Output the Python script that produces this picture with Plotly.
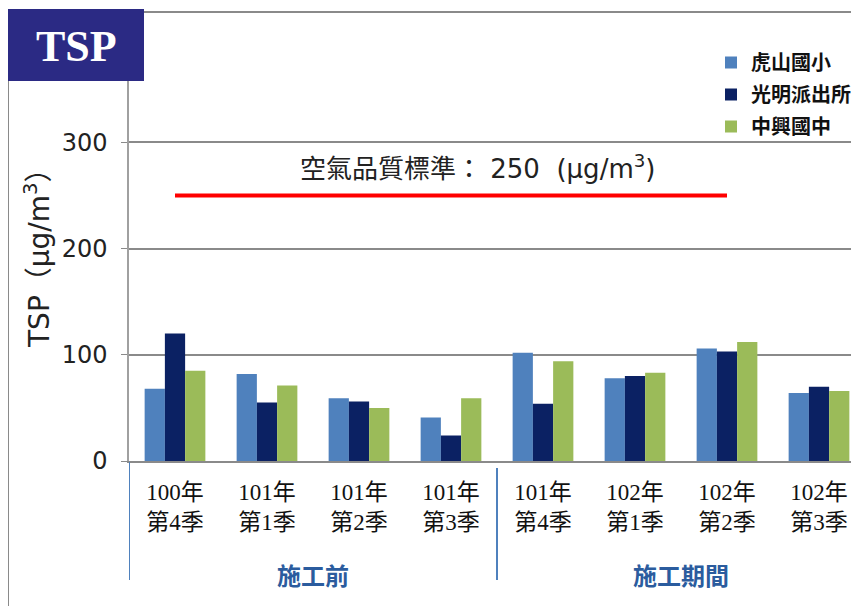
import plotly.graph_objects as go

# ---- data ----
categories = ["100年<br>第4季", "101年<br>第1季", "101年<br>第2季", "101年<br>第3季",
              "101年<br>第4季", "102年<br>第1季", "102年<br>第2季", "102年<br>第3季"]
series_names = ["虎山國小", "光明派出所", "中興國中"]
hushan = [68, 82, 59, 41, 102, 78, 106, 64]
guangming = [120, 55, 56, 24, 54, 80, 103, 70]
zhongxing = [85, 71, 50, 59, 94, 83, 112, 66]
standard_value = 250
y_ticks = [0, 100, 200, 300, 400]
y_tick_text = ["0", "100", "200", "300", ""]
phase_labels = ["施工前", "施工期間"]

colors = ["#4F81BD", "#0B2163", "#9BBB59"]

# page has an 8px body margin, so the figure is drawn 8px in from the corner
W, H = 851, 598
L, R, T, B = 121, 0, 28, 145
pw = W - L - R
ph = H - T - B


def px_x(px):  # screen x -> paper
    return (px - 8 - L) / pw


def px_y(py):  # screen y -> paper
    return (H - B - (py - 8)) / ph


CJK = "Noto Sans CJK TC"
LAT = "DejaVu Sans"
standard_label = (
    f"<span style='font-family:{CJK};font-size:26px'>空氣品質標準：</span>"
    f"<span style='font-family:{LAT};font-size:26px'> {standard_value}  (μg/m<sup>3</sup>)</span>"
)

fig = go.Figure()
for name, vals, c in zip(series_names, [hushan, guangming, zhongxing], colors):
    fig.add_trace(go.Bar(x=categories, y=vals, name=name, marker_color=c,
                         marker_line_width=0, legendgroup=name))

fig.add_trace(go.Scatter(x=[categories[0], categories[6]],
                         y=[standard_value, standard_value],
                         mode="lines", line=dict(color="#FF0000", width=4),
                         showlegend=False, hoverinfo="skip"))

shapes = [
    dict(type="rect", xref="paper", yref="paper", x0=px_x(8), x1=px_x(880),
         y0=px_y(640), y1=px_y(12), line=dict(color="#8a8a8a", width=2), layer="below"),
    dict(type="rect", xref="paper", yref="paper", x0=px_x(6), x1=px_x(144),
         y0=px_y(81), y1=px_y(9), fillcolor="#2B2A84", line=dict(width=0)),
    dict(type="line", xref="x", yref="paper", x0=-0.5, x1=-0.5,
         y0=px_y(462), y1=px_y(580), line=dict(color="#4F81BD", width=2)),
    dict(type="line", xref="x", yref="paper", x0=3.5, x1=3.5,
         y0=px_y(468), y1=px_y(580), line=dict(color="#4F81BD", width=2)),
]

annotations = [
    dict(text="TSP", xref="paper", yref="paper", x=px_x(76), y=px_y(46),
         xanchor="center", yanchor="middle", showarrow=False,
         font=dict(family="Liberation Serif", size=44, color="white", weight="bold")),
    dict(text=standard_label, xref="paper", yref="paper", x=px_x(477), y=px_y(166),
         xanchor="center", yanchor="middle", showarrow=False,
         font=dict(family=CJK, size=26, color="#222")),
    dict(text="TSP（μg/m<sup>3</sup>）", xref="paper", yref="paper", x=px_x(37), y=px_y(251),
         xanchor="center", yanchor="middle", textangle=-90, showarrow=False,
         font=dict(family=LAT + ", " + CJK, size=28, color="#222")),
    dict(text=phase_labels[0], xref="x", yref="paper", x=1.5, y=px_y(574),
         xanchor="center", yanchor="middle", showarrow=False,
         font=dict(family=CJK, size=24, color="#2B5C9E", weight="bold")),
    dict(text=phase_labels[1], xref="x", yref="paper", x=5.5, y=px_y(574),
         xanchor="center", yanchor="middle", showarrow=False,
         font=dict(family=CJK, size=24, color="#2B5C9E", weight="bold")),
]

fig.update_layout(
    width=W, height=H,
    margin=dict(l=L, r=R, t=T, b=B, autoexpand=False),
    paper_bgcolor="white", plot_bgcolor="white",
    barmode="group", bargap=0.34, bargroupgap=0,
    shapes=shapes, annotations=annotations,
    legend=dict(x=px_x(711), y=px_y(43), xanchor="left", yanchor="top",
                font=dict(family=CJK, size=20, color="#111", weight="bold"),
                bgcolor="rgba(0,0,0,0)", tracegroupgap=3, itemwidth=30),
    showlegend=True,
)

fig.update_xaxes(range=[-0.5, -0.5 + pw / 92.0], showgrid=False,
                 showline=True, linecolor="#8a8a8a", linewidth=2,
                 ticks="outside", ticklen=9, tickcolor="rgba(0,0,0,0)",
                 tickfont=dict(family="Liberation Serif, Noto Sans CJK TC",
                               size=23, color="#111"),
                 fixedrange=True)
fig.update_yaxes(range=[0, 400], tickvals=y_ticks, ticktext=y_tick_text,
                 showgrid=True, gridcolor="#8a8a8a", gridwidth=1.5,
                 showline=True, linecolor="#a0a0a0", linewidth=1.5,
                 ticks="outside", ticklen=6, tickcolor="#8a8a8a",
                 ticklabelstandoff=9,
                 tickfont=dict(family=LAT, size=24, color="#222"),
                 zeroline=False)

fig.write_html("out.html")
